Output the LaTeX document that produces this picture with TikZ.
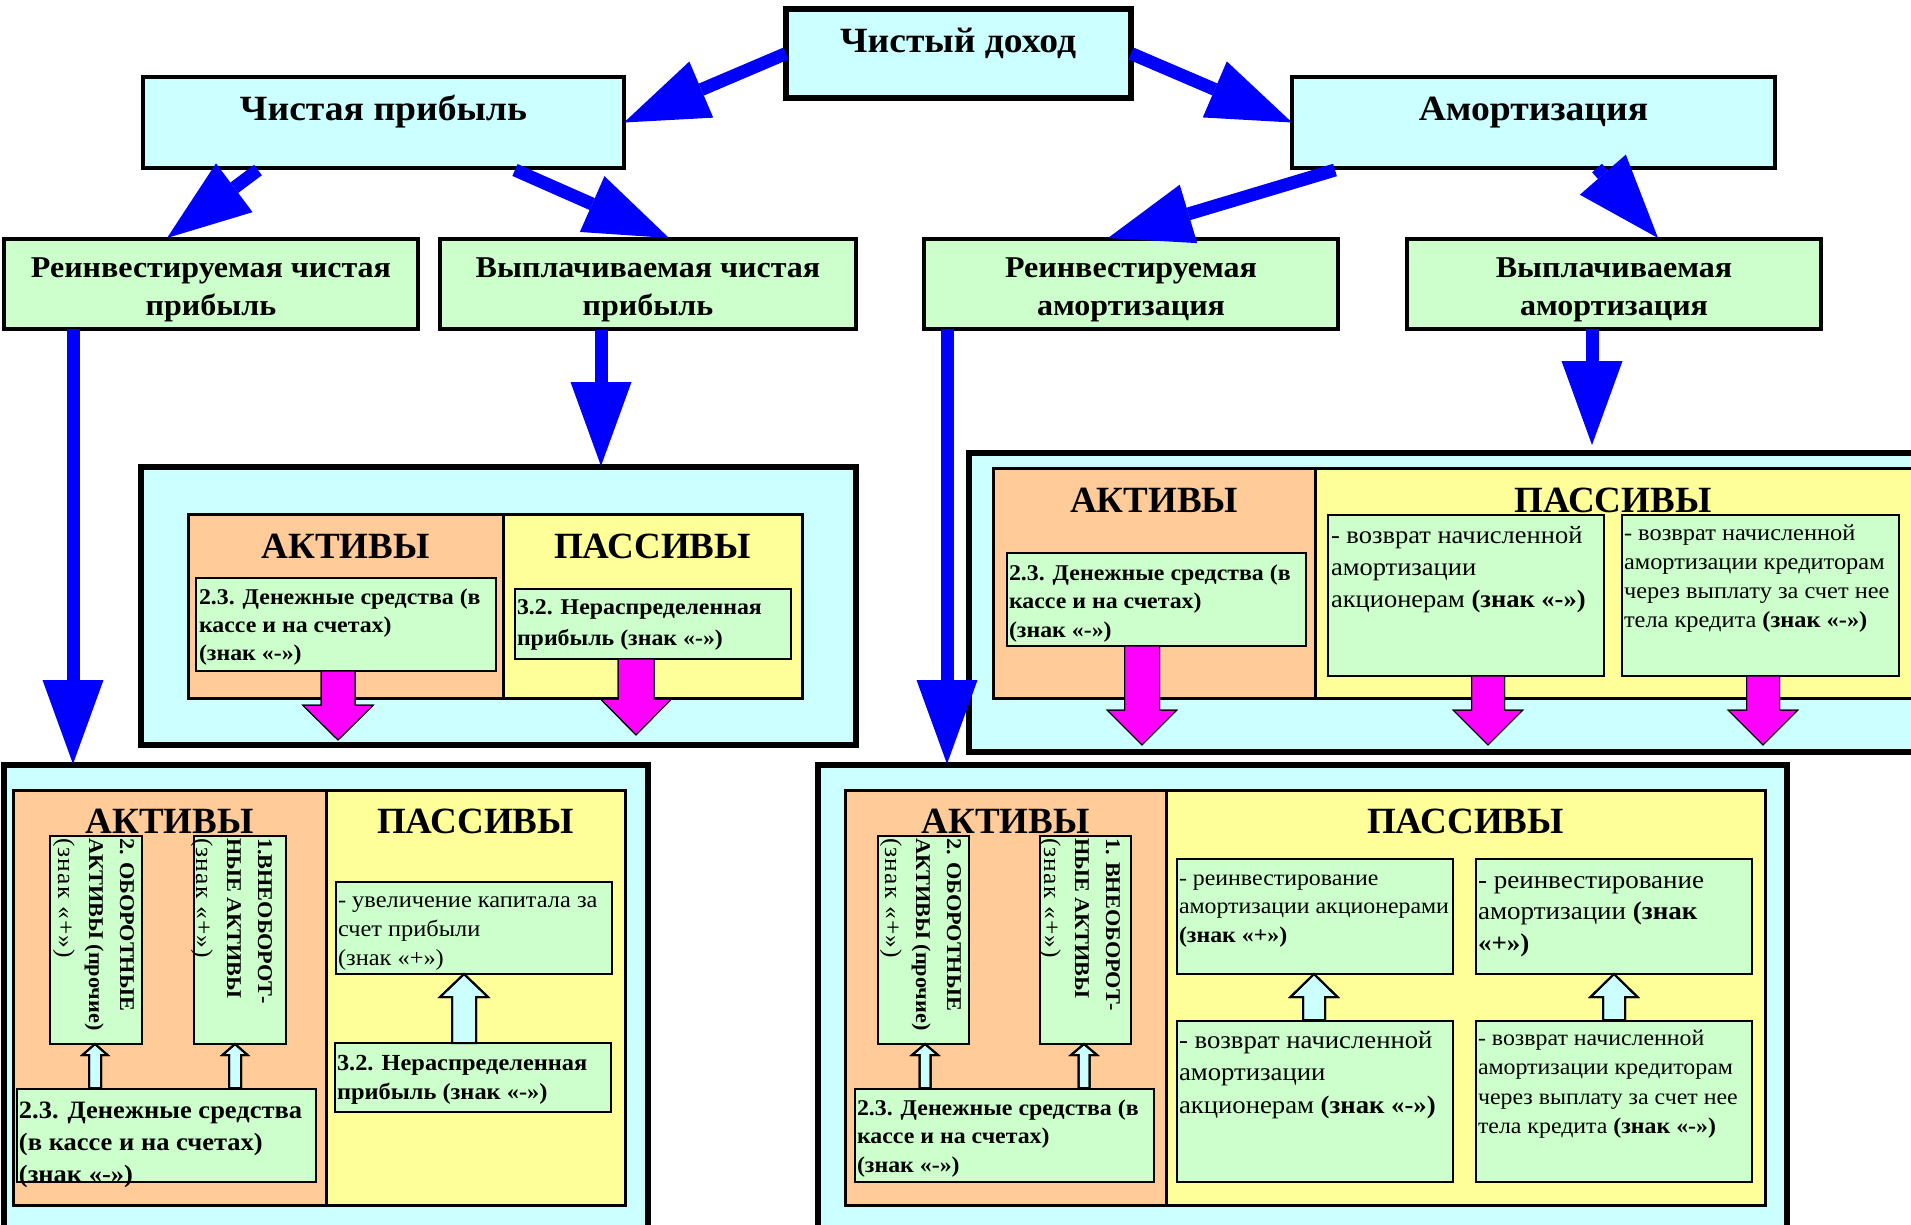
\documentclass[tikz,border=0pt]{standalone}
\usepackage{fontspec}
\setmainfont[FakeStretch=1.06]{Liberation Serif}
\newfontfamily\lblfont{Liberation Serif}
\usetikzlibrary{arrows.meta}
\definecolor{cyanbg}{HTML}{CCFFFF}
\definecolor{greenbg}{HTML}{CCFFCC}
\definecolor{orangebg}{HTML}{FFCC99}
\definecolor{yellowbg}{HTML}{FFFF99}
\definecolor{bluearr}{HTML}{0000FF}
\definecolor{magarr}{HTML}{FF00FF}
\newcommand\fsz[2]{\fontsize{#1}{#2}\selectfont}
\newcommand\signline[1]{{\fontsize{24}{31}\selectfont\mdseries\addfontfeature{LetterSpace=5}#1}}
\newcommand\mkbox[6]{\node[#2, minimum width={#5-#3}, minimum height={#6-#4}] (#1) at ({(#3+#5)/2},{(#4+#6)/2}) {};}
% #1 style, #2 cx, #3 y0, #4 head base y, #5 tip y, #6 shaft half, #7 head half
\newcommand\blkarrow[7]{%
  \fill[#1] (#2-#6,#3) -- (#2-#6,#4) -- (#2-#7,#4) -- (#2,#5) -- (#2+#7,#4) -- (#2+#6,#4) -- (#2+#6,#3) -- cycle;
  \draw[#1, fill=none] (#2-#6,#3) -- (#2-#6,#4) -- (#2-#7,#4) -- (#2,#5) -- (#2+#7,#4) -- (#2+#6,#4) -- (#2+#6,#3);}
\begin{document}
\begin{tikzpicture}[x=1pt,y=-1pt,
  bx/.style={draw=black, rectangle, inner sep=0pt, outer sep=0pt},
  cyanbox/.style={bx, fill=cyanbg, line width=3.5pt},
  ndbox/.style={bx, fill=cyanbg, line width=5.5pt},
  grnrow/.style={bx, fill=greenbg, line width=3.5pt},
  outerbox/.style={bx, fill=cyanbg, line width=5.5pt},
  actbox/.style={bx, fill=orangebg, line width=3pt},
  pasbox/.style={bx, fill=yellowbg, line width=3pt},
  gbox/.style={bx, fill=greenbg, line width=2.5pt},
  txt/.style={inner sep=0pt, outer sep=0pt, align=left, anchor=north west},
  ctxt/.style={inner sep=0pt, outer sep=0pt, align=center, anchor=north, font=\fsz{30.2}{38}\bfseries},
  vtxt/.style={txt, rotate=-90, font=\fsz{21}{31}\bfseries},
  ttl/.style={inner sep=0pt, anchor=base, font=\fsz{35.5}{42}\bfseries},
  lbl/.style={inner sep=0pt, anchor=base, font=\lblfont\fsz{37}{44}\bfseries},
  magshape/.style={fill=magarr, draw=black, line width=1pt, line join=miter},
  upshape/.style={fill=cyanbg, draw=black, line width=2pt, line join=miter},
  bluearrow/.style={draw=bluearr, line width=13pt, -{Triangle[length=84pt,width=61pt,line width=0pt]}}
]
\useasboundingbox (0,0) rectangle (1911,1224);
\clip (0,0) rectangle (1911,1224);
\fill[white] (0,0) rectangle (1911,1224);

% ---- top level
\mkbox{nd}{ndbox}{786}{9}{1131}{98}
\mkbox{cp}{cyanbox}{143}{77}{624}{168}
\mkbox{am}{cyanbox}{1292}{77}{1775}{168}
\node[ttl] (ndt) at (958,52) {Чистый доход};
\node[ttl] (cpt) at (383.5,120) {Чистая прибыль};
\node[ttl] (amt) at (1533.5,120) {Амортизация};

% ---- second row
\mkbox{rcp}{grnrow}{4}{239}{418}{329}
\mkbox{vcp}{grnrow}{440}{239}{856}{329}
\mkbox{ra}{grnrow}{924}{239}{1338}{329}
\mkbox{va}{grnrow}{1407}{239}{1821}{329}
\node[ctxt] (rcpt) at (211,250.4) {\strut Реинвестируемая чистая\\прибыль};
\node[ctxt] (vcpt) at (648,250.4) {\strut Выплачиваемая чистая\\прибыль};
\node[ctxt] (rat) at (1131,250.4) {\strut Реинвестируемая\\амортизация};
\node[ctxt] (vat) at (1614,250.4) {\strut Выплачиваемая\\амортизация};

% ---- middle left
\mkbox{mlo}{outerbox}{141}{467}{856}{745}
\mkbox{mla}{actbox}{188}{514}{503}{698}
\mkbox{mlp}{pasbox}{503}{514}{802}{698}
\node[lbl] (mlat) at (345.5,558) {АКТИВЫ};
\node[lbl] (mlpt) at (652.5,558) {ПАССИВЫ};
\mkbox{mlg1}{gbox}{196}{578}{496}{671}
\mkbox{mlg2}{gbox}{515}{589}{791}{659}
\node[txt, font=\fsz{22.5}{28}\bfseries] (mlg1t) at (199,584.8) {\strut 2.3. Денежные средства (в\\кассе и на счетах)\\(знак «-»)};
\node[txt, font=\fsz{22.5}{31}\bfseries] (mlg2t) at (517,592.7) {\strut 3.2. Нераспределенная\\прибыль (знак «-»)};
\blkarrow{magshape}{338}{671}{705}{740}{17}{35.5}
\blkarrow{magshape}{636}{659}{699}{735}{18}{35.5}

% ---- middle right
\mkbox{mro}{outerbox}{969}{453}{1950}{752}
\mkbox{mra}{actbox}{993}{468}{1315}{698}
\mkbox{mrp}{pasbox}{1315}{468}{1935}{698}
\node[lbl] (mrat) at (1154,512) {АКТИВЫ};
\node[lbl] (mrpt) at (1613,512) {ПАССИВЫ};
\mkbox{mrg1}{gbox}{1007}{553}{1306}{646}
\mkbox{mrg2}{gbox}{1328}{515}{1604}{676}
\mkbox{mrg3}{gbox}{1622}{515}{1899}{676}
\node[txt, font=\fsz{22.5}{28.5}\bfseries] (mrg1t) at (1009,560.5) {\strut 2.3. Денежные средства (в\\кассе и на счетах)\\(знак «-»)};
\node[txt, font=\fsz{25}{32}] (mrg2t) at (1331,520.9) {\strut - возврат начисленной\\амортизации\\акционерам \textbf{(знак «-»)}};
\node[txt, font=\fsz{23}{29}] (mrg3t) at (1624,520.3) {\strut - возврат начисленной\\амортизации кредиторам\\через выплату за счет нее\\тела кредита \textbf{(знак «-»)}};
\blkarrow{magshape}{1142}{646}{710}{745}{17.5}{35}
\blkarrow{magshape}{1488}{676}{710}{745}{16.5}{35}
\blkarrow{magshape}{1763}{676}{710}{745}{16.5}{35}

% ---- bottom left
\mkbox{blo}{outerbox}{4}{765}{648}{1260}
\mkbox{bla}{actbox}{13}{790}{326}{1205}
\mkbox{blp}{pasbox}{326}{790}{625}{1205}
\node[lbl] (blat) at (169.5,833) {АКТИВЫ};
\node[lbl] (blpt) at (475.5,833) {ПАССИВЫ};
\mkbox{blv1}{gbox}{50}{836}{142}{1044}
\mkbox{blv2}{gbox}{194}{836}{286}{1044}
\mkbox{blg}{gbox}{17}{1089}{316}{1182}
\mkbox{blu}{gbox}{336}{882}{612}{974}
\mkbox{blr}{gbox}{335}{1043}{611}{1112}
\node[vtxt] (blv1t) at (141.8,838) {\strut 2. ОБОРОТНЫЕ\\АКТИВЫ (прочие)\\\signline{(знак «+»)}};
\node[vtxt] (blv2t) at (279.8,838) {\strut 1.ВНЕОБОРОТ-\\НЫЕ АКТИВЫ\\\signline{(знак «+»)}};
\node[txt, font=\fsz{25}{32}\bfseries] (blgt) at (19,1095.9) {\strut 2.3. Денежные средства\\(в кассе и на счетах)\\(знак «-»)};
\node[txt, font=\fsz{23}{29}] (blut) at (338,887.3) {\strut - увеличение капитала за\\счет прибыли\\(знак «+»)};
\node[txt, font=\fsz{23}{29}\bfseries] (blrt) at (337,1050.3) {\strut 3.2. Нераспределенная\\прибыль (знак «-»)};
\blkarrow{upshape}{95}{1088}{1055}{1044}{6}{12.5}
\blkarrow{upshape}{235}{1088}{1055}{1044}{6}{12.5}
\blkarrow{upshape}{464}{1043}{997}{974}{12}{24}

% ---- bottom right
\mkbox{bro}{outerbox}{818}{765}{1787}{1260}
\mkbox{bra}{actbox}{845}{790}{1166}{1205}
\mkbox{brp}{pasbox}{1166}{790}{1765}{1205}
\node[lbl] (brat) at (1005.5,833) {АКТИВЫ};
\node[lbl] (brpt) at (1465.5,833) {ПАССИВЫ};
\mkbox{brv1}{gbox}{878}{836}{969}{1044}
\mkbox{brv2}{gbox}{1040}{836}{1131}{1044}
\mkbox{brg}{gbox}{855}{1089}{1154}{1182}
\mkbox{brr1}{gbox}{1177}{859}{1453}{974}
\mkbox{brr2}{gbox}{1476}{859}{1752}{974}
\mkbox{brv3}{gbox}{1177}{1021}{1453}{1182}
\mkbox{brv4}{gbox}{1476}{1021}{1752}{1182}
\node[vtxt] (brv1t) at (968.8,838) {\strut 2. ОБОРОТНЫЕ\\АКТИВЫ (прочие)\\\signline{(знак «+»)}};
\node[vtxt] (brv2t) at (1127.8,838) {\strut 1. ВНЕОБОРОТ-\\НЫЕ АКТИВЫ\\\signline{(знак «+»)}};
\node[txt, font=\fsz{22.5}{28.5}\bfseries] (brgt) at (857,1095.5) {\strut 2.3. Денежные средства (в\\кассе и на счетах)\\(знак «-»)};
\node[txt, font=\fsz{22.5}{28.5}] (brr1t) at (1179,865.5) {\strut - реинвестирование\\амортизации акционерами\\\textbf{(знак «+»)}};
\node[txt, font=\fsz{25.5}{31.5}] (brr2t) at (1478,866.4) {\strut - реинвестирование\\амортизации \textbf{(знак}\\\textbf{«+»)}};
\node[txt, font=\fsz{25.2}{32.5}] (brv3t) at (1179,1025.6) {\strut - возврат начисленной\\амортизации\\акционерам \textbf{(знак «-»)}};
\node[txt, font=\fsz{22.5}{29.3}] (brv4t) at (1478,1024.9) {\strut - возврат начисленной\\амортизации кредиторам\\через выплату за счет нее\\тела кредита \textbf{(знак «-»)}};
\blkarrow{upshape}{925}{1088}{1055}{1044}{5.5}{13}
\blkarrow{upshape}{1084}{1088}{1055}{1044}{5.5}{13}
\blkarrow{upshape}{1314}{1020}{997}{974}{11}{23.5}
\blkarrow{upshape}{1614}{1020}{997}{974}{11}{23.5}

% ---- blue connectors
\coordinate (cpA) at (258,170);
\coordinate (rcpTip) at (167,238);
\coordinate (cpB) at (515,170);
\coordinate (vcpTip) at (669,238);
\coordinate (amA) at (1335,170);
\coordinate (raTip) at (1108,238);
\coordinate (amB) at (1597,168);
\coordinate (vaTip) at (1658,238);
\coordinate (rcpS) at (73,329);
\coordinate (bloTop) at (73,764);
\coordinate (vcpS) at (601,330);
\coordinate (mloTop) at (601,466);
\coordinate (raS) at (947,329);
\coordinate (broTop) at (947,764);
\coordinate (vaS) at (1592,329);
\coordinate (mroTop) at (1592,445);
\draw[bluearrow] (nd.west) -- (cp.east);
\draw[bluearrow] (nd.east) -- (am.west);
\draw[bluearrow] (cpA) -- (rcpTip);
\draw[bluearrow] (cpB) -- (vcpTip);
\draw[bluearrow] (amA) -- (raTip);
\draw[bluearrow] (amB) -- (vaTip);
\draw[bluearrow] (rcpS) -- (bloTop);
\draw[bluearrow] (vcpS) -- (mloTop);
\draw[bluearrow] (raS) -- (broTop);
\draw[bluearrow] (vaS) -- (mroTop);
\end{tikzpicture}
\end{document}
